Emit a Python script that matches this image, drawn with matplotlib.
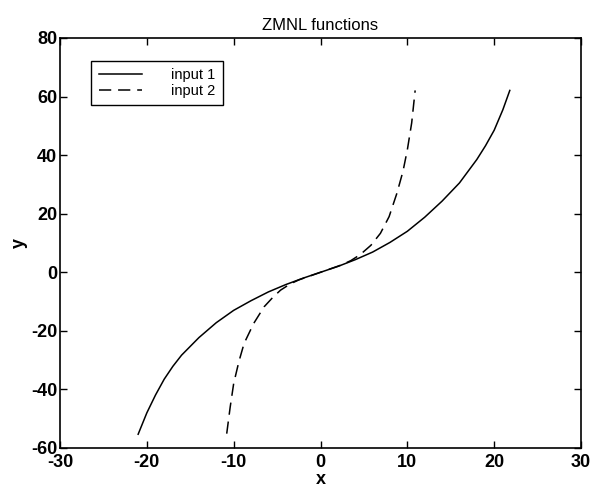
import matplotlib
matplotlib.use("Agg")
import matplotlib.pyplot as plt

# curva 1 (solida)
x1 = [-21.0, -20.0, -19.0, -18.0, -17.0, -16.0, -14.0, -12.0, -10.0, -8.0, -6.0, -4.0, -2.0,
      0.0, 2.0, 4.0, 6.0, 8.0, 10.0, 12.0, 14.0, 16.0, 18.0, 19.0, 20.0, 21.0, 21.8]
y1 = [-55.3, -48.0, -41.9, -36.5, -32.1, -28.3, -22.3, -17.2, -13.0, -9.7, -6.7, -4.2, -2.0,
      0.0, 2.0, 4.3, 6.9, 10.2, 14.0, 18.8, 24.3, 30.5, 38.5, 43.2, 48.5, 55.5, 62.1]

# curva 2 (discontinua)
x2 = [-10.8, -10.4, -10.0, -9.4, -8.8, -7.7, -6.5, -5.5, -4.6, -3.5, -2.5, 0.0,
      2.5, 3.5, 4.6, 5.8, 6.9, 7.9, 8.8, 9.5, 10.0, 10.5, 10.9]
y2 = [-55.1, -46.0, -38.0, -30.5, -24.3, -17.5, -11.8, -8.6, -6.1, -4.0, -2.6, 0.0,
      2.6, 4.0, 6.1, 9.2, 13.3, 19.0, 27.0, 34.5, 41.8, 51.0, 62.1]

xticks = [-30, -20, -10, 0, 10, 20, 30]
yticks = [-60, -40, -20, 0, 20, 40, 60, 80]

plt.rcParams['font.family'] = ['Liberation Sans', 'DejaVu Sans']
plt.rcParams['axes.unicode_minus'] = False

fig = plt.figure(figsize=(6.03, 4.96), dpi=100)
ax = fig.add_axes([60/603, 48/496, 521/603, 410/496])

ax.plot(x1, y1, color='black', lw=1.1, label='input 1')
ax.plot(x2, y2, color='black', lw=1.1, linestyle=(0, (8, 4.5)), label='input 2')

ax.set_xlim(-30, 30)
ax.set_ylim(-60, 80)
ax.set_xticks(xticks)
ax.set_yticks(yticks)
ax.tick_params(direction='in', top=True, right=True, length=5, width=1,
               labelsize=13, pad=2)
ax.tick_params(axis='x', pad=4)
for lab in ax.get_xticklabels() + ax.get_yticklabels():
    lab.set_fontweight('bold')
for s in ax.spines.values():
    s.set_linewidth(1.2)

ax.set_title("ZMNL functions", fontsize=12, pad=6)
ax.set_xlabel("x", fontsize=13, fontweight='bold', labelpad=0)
ax.set_ylabel("y", fontsize=13, fontweight='bold', labelpad=2)

leg = ax.legend(loc='upper left', bbox_to_anchor=(0.06, 0.945), fontsize=10.5,
                handlelength=3.0, handletextpad=2.0, borderpad=0.5,
                labelspacing=0.15, borderaxespad=0, fancybox=False,
                framealpha=1, edgecolor='black')
leg.get_frame().set_linewidth(1.0)

fig.savefig("out.png", dpi=100)
